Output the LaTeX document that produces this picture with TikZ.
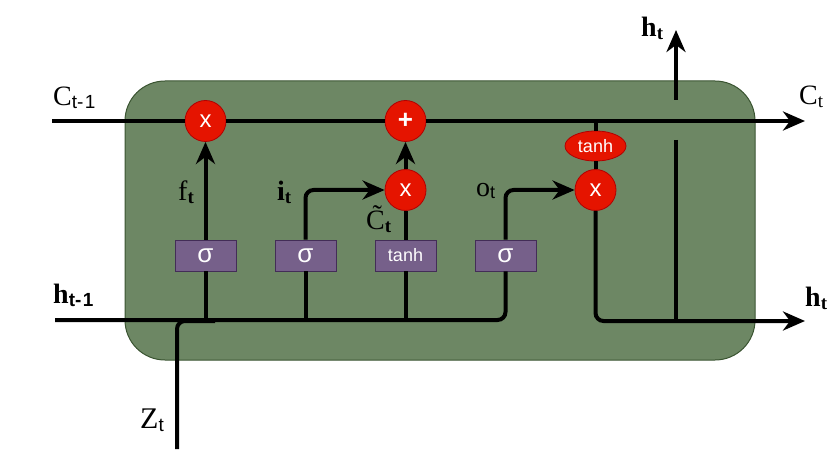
\documentclass[tikz,border=0pt]{standalone}
\usepackage{fontspec}
\setmainfont{Liberation Serif}
\newfontfamily\lsans{Liberation Sans}
\usetikzlibrary{arrows.meta,shapes.geometric}
\definecolor{cellfill}{HTML}{6D8764}
\definecolor{celldraw}{HTML}{3A5431}
\definecolor{gred}{HTML}{E51400}
\definecolor{gredd}{HTML}{B20000}
\definecolor{gpurple}{HTML}{76608A}
\definecolor{gpurpled}{HTML}{432D57}
\newcommand{\fs}[1]{\fontsize{#1}{#1}\selectfont}
\tikzset{
  wire/.style={line width=4pt, draw=black, rounded corners=8pt},
  arr/.style={wire, -{Stealth[length=22pt,width=19pt,inset=7pt]}},
  gate/.style={circle, fill=gred, draw=gredd, line width=0.8pt, minimum size=41pt,
    inner sep=0pt, text=white, font=\lsans\fs{24}},
  actbox/.style={rectangle, fill=gpurple, draw=gpurpled, line width=0.8pt,
    minimum width=61pt, minimum height=31pt, inner sep=0pt, text=white},
  oval/.style={ellipse, fill=gred, draw=gredd, line width=0.8pt, minimum width=61pt,
    minimum height=30pt, inner sep=0pt, text=white, font=\lsans\fs{18}},
  lab/.style={inner sep=0pt, anchor=base west, font=\fs{28}}
}
\begin{document}
\begin{tikzpicture}[x=1pt,y=-1pt]
\useasboundingbox (0,0) rectangle (840,454);
% cell
\node[draw=celldraw, fill=cellfill, line width=1pt, rounded corners=40pt,
  minimum width=630pt, minimum height=279pt, inner sep=0pt] (cell) at (440,220.5) {};
% coordinates
\coordinate (cin) at (52,121);
\coordinate (cout) at (805,121);
\coordinate (hin) at (55,320);
\coordinate (hout) at (805,321);
\coordinate (zin) at (177,449);
\coordinate (zc) at (215,321);
\coordinate (htop) at (676,30);
\coordinate (hup) at (676,100);
\coordinate (hlow) at (676,140);
% gates
\node[gate] (fx) at (205.5,121) {x};
\node[gate, font=\lsans\bfseries\fs{26}] (plus) at (405.5,121) {+};
\node[gate] (ix) at (405.5,190) {x};
\node[gate] (ox) at (595.5,190) {x};
\node[oval] (th) at (595.5,146) {tanh};
% boxes
\node[actbox, font=\lsans\fs{26}] (s1) at (205.5,255.5) {σ};
\node[actbox, font=\lsans\fs{26}] (s2) at (305.5,255.5) {σ};
\node[actbox, font=\lsans\fs{18}] (tb) at (405.5,255.5) {tanh};
\node[actbox, font=\lsans\fs{26}] (s4) at (505.5,255.5) {σ};
% cell state line
\draw[wire] (cin) -- (fx);
\draw[wire] (fx) -- (plus);
\draw[arr] (plus) -- (cout);
% hidden input line
\draw[wire] (hin) -- (s4.south |- hin) -- (s4.south);
\draw[wire] (zin) -- (zin |- zc) -- (zc);
\draw[wire] (s1.south) -- (s1.south |- hin);
\draw[wire] (s2.south) -- (s2.south |- hin);
\draw[wire] (tb.south) -- (tb.south |- hin);
% gate arrows
\draw[arr] (s1.north) -- (fx.south);
\draw[arr] (s2.north) -- (s2.north |- ix) -- (ix.west);
\draw[wire] (tb.north) -- (ix.south);
\draw[arr] (ix.north) -- (plus.south);
\draw[arr] (s4.north) -- (s4.north |- ox) -- (ox.west);
% output
\draw[wire] (th.north) -- (th.north |- cin);
\draw[wire] (th.south) -- (ox.north);
\draw[arr] (ox.south) -- (ox.south |- hout) -- (hout);
\draw[wire] (hlow) -- (hlow |- hout);
\draw[arr] (hup) -- (htop);
% labels
\node[lab] (lcin) at (53,106) {C{\lsans\fs{19}\raisebox{-3pt}{t-\hspace{1.5pt}1}}};
\node[lab] (lcout) at (799,105) {C\raisebox{-3pt}{\fs{19}t}};
\node[lab] (lhin) at (53,303) {\textbf{h}{\lsans\bfseries\fs{19}\raisebox{-3pt}{t-\hspace{1.5pt}1}}};
\node[lab] (lhout) at (805,306) {\textbf{h}\raisebox{-3pt}{\fs{19}\bfseries t}};
\node[lab] (lhtop) at (641,37) {\textbf{h}\raisebox{-3pt}{\fs{19}\bfseries t}};
\node[lab, font=\fs{30}] (lz) at (140,428) {Z{\lsans\fs{19}\raisebox{-3pt}{t}}};
\node[lab] (lf) at (178,201) {f\raisebox{-3pt}{\fs{19}\bfseries t}};
\node[lab] (li) at (277,201) {\textbf{i}\raisebox{-3pt}{\fs{19}\bfseries t}};
\node[lab] (lct) at (366,230) {\~{C}\raisebox{-3pt}{\fs{19}\bfseries t}};
\node[lab] (lo) at (476,197) {o{\lsans\fs{18}\raisebox{-2pt}{t}}};
\end{tikzpicture}
\end{document}
